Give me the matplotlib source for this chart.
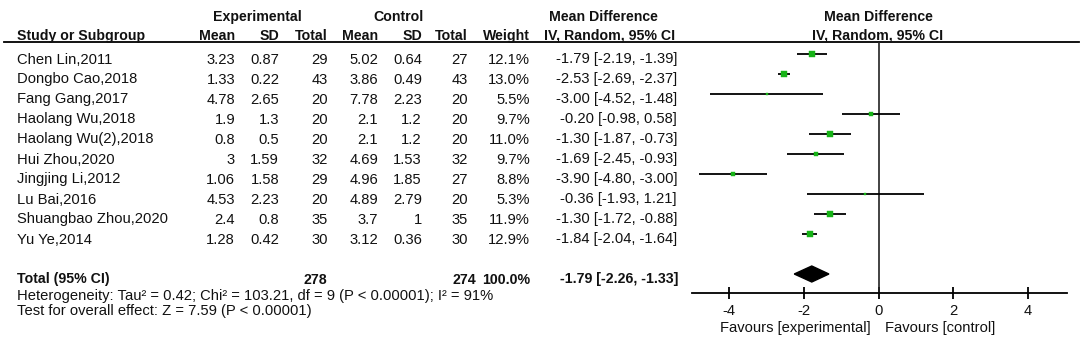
import matplotlib
matplotlib.use('Agg')
import matplotlib.pyplot as plt
from matplotlib.patches import Polygon
from matplotlib.transforms import blended_transform_factory

plt.rcParams['font.family'] = ['Liberation Sans', 'DejaVu Sans']
plt.rcParams['font.size'] = 10.6

studies = ['Chen Lin,2011', 'Dongbo Cao,2018', 'Fang Gang,2017', 'Haolang Wu,2018',
           'Haolang Wu(2),2018', 'Hui Zhou,2020', 'Jingjing Li,2012', 'Lu Bai,2016',
           'Shuangbao Zhou,2020', 'Yu Ye,2014']
exp_mean = [3.23, 1.33, 4.78, 1.9, 0.8, 3, 1.06, 4.53, 2.4, 1.28]
exp_sd = [0.87, 0.22, 2.65, 1.3, 0.5, 1.59, 1.58, 2.23, 0.8, 0.42]
exp_n = [29, 43, 20, 20, 20, 32, 29, 20, 35, 30]
ctl_mean = [5.02, 3.86, 7.78, 2.1, 2.1, 4.69, 4.96, 4.89, 3.7, 3.12]
ctl_sd = [0.64, 0.49, 2.23, 1.2, 1.2, 1.53, 1.85, 2.79, 1, 0.36]
ctl_n = [27, 43, 20, 20, 20, 32, 27, 20, 35, 30]
weight = [12.1, 13.0, 5.5, 9.7, 11.0, 9.7, 8.8, 5.3, 11.9, 12.9]
md = [-1.79, -2.53, -3.00, -0.20, -1.30, -1.69, -3.90, -0.36, -1.30, -1.84]
lo = [-2.19, -2.69, -4.52, -0.98, -1.87, -2.45, -4.80, -1.93, -1.72, -2.04]
hi = [-1.39, -2.37, -1.48, 0.58, -0.73, -0.93, -3.00, 1.21, -0.88, -1.64]

tot_exp_n, tot_ctl_n, tot_weight = 278, 274, 100.0
tot_md, tot_lo, tot_hi = -1.79, -2.26, -1.33
heterogeneity = 'Heterogeneity: Tau\u00b2 = 0.42; Chi\u00b2 = 103.21, df = 9 (P < 0.00001); I\u00b2 = 91%'
overall = 'Test for overall effect: Z = 7.59 (P < 0.00001)'
xticks = [-4, -2, 0, 2, 4]

W, H = 1084, 348
green = '#17b317'
txt = '#111111'

fig = plt.figure(figsize=(W / 100, H / 100), dpi=100)

# pixel-space overlay for the table part
over = fig.add_axes([0, 0, 1, 1])
over.set_xlim(0, W)
over.set_ylim(H, 0)
over.axis('off')

rows = [54 + 20 * i for i in range(len(studies))]
total_y = rows[-1] + 40
base = 9.5  # text baseline below row centre

# headers
hb = dict(fontweight='bold', color=txt, fontsize=10.2)
over.text(257, 21, 'Experimental', ha='center', va='baseline', **hb)
over.text(399, 21, 'Control', ha='center', va='baseline', **hb)
over.text(603, 21, 'Mean Difference', ha='center', va='baseline', **hb)
over.text(878, 21, 'Mean Difference', ha='center', va='baseline', **hb)
over.text(17, 40, 'Study or Subgroup', ha='left', va='baseline', **hb)
cols = [235, 279, 328, 378, 422, 468, 530]
for x, lab in zip(cols, ['Mean', 'SD', 'Total', 'Mean', 'SD', 'Total', 'Weight']):
    over.text(x, 40, lab, ha='right', va='baseline', **hb)
over.text(610, 40, 'IV, Random, 95% CI', ha='center', va='baseline', **hb)
over.text(878, 40, 'IV, Random, 95% CI', ha='center', va='baseline', **hb)
over.plot([4, 1079], [42, 42], color='black', lw=1.3)

for i, y in enumerate(rows):
    yb = y + base
    over.text(17, yb, studies[i], ha='left', va='baseline', color=txt)
    vals = [f'{exp_mean[i]:g}', f'{exp_sd[i]:g}', str(exp_n[i]),
            f'{ctl_mean[i]:g}', f'{ctl_sd[i]:g}', str(ctl_n[i]), f'{weight[i]:.1f}%']
    for x, v in zip(cols, vals):
        over.text(x, yb, v, ha='right', va='baseline', color=txt)
    over.text(677, yb, f'{md[i]:.2f} [{lo[i]:.2f}, {hi[i]:.2f}]',
              ha='right', va='baseline', color=txt)

tb = total_y + base
over.text(17, tb, 'Total (95% CI)', ha='left', va='baseline', **hb)
over.text(327, tb, str(tot_exp_n), ha='right', va='baseline', **hb)
over.text(476, tb, str(tot_ctl_n), ha='right', va='baseline', **hb)
over.text(530, tb, f'{tot_weight:.1f}%', ha='right', va='baseline', **hb)
over.text(678, tb, f'{tot_md:.2f} [{tot_lo:.2f}, {tot_hi:.2f}]',
          ha='right', va='baseline', **hb)
over.text(17, 300, heterogeneity, ha='left', va='baseline', color=txt)
over.text(17, 315, overall, ha='left', va='baseline', color=txt)

# forest plot
ax = fig.add_axes([692 / W, 1 - 293 / H, (1067 - 692) / W, (293 - 42) / H])
ax.set_xlim(-5, 5.05)
ax.set_ylim(293, 42)
ax.patch.set_alpha(0)
for s in ['top', 'right', 'left']:
    ax.spines[s].set_visible(False)
ax.spines['bottom'].set_linewidth(1.3)
ax.set_yticks([])
ax.set_xticks(xticks)
ax.set_xticklabels([str(t) for t in xticks])
ax.tick_params(axis='x', direction='inout', length=8, width=1.3, pad=4.0,
               labelsize=10.6, labelcolor=txt)
ax.axvline(0, color='#222222', lw=1.2)

ax.hlines(rows, lo, hi, color='black', lw=1.3)
for i, y in enumerate(rows):
    side = 0.5 * weight[i] * 0.72  # px -> pt
    ax.plot(md[i], y, 's', ms=side, color=green, mec=green, mew=0.3, zorder=3)

ax.add_patch(Polygon([(tot_lo, total_y), (tot_md, total_y - 8),
                      (tot_hi, total_y), (tot_md, total_y + 8)],
                     closed=True, color='black'))

trans = blended_transform_factory(ax.transData, over.transData)
over.text(-0.2, 332, 'Favours [experimental]', ha='right', va='baseline',
          color=txt, transform=trans)
over.text(0.18, 332, 'Favours [control]', ha='left', va='baseline',
          color=txt, transform=trans)

fig.savefig('out.png', dpi=100)
